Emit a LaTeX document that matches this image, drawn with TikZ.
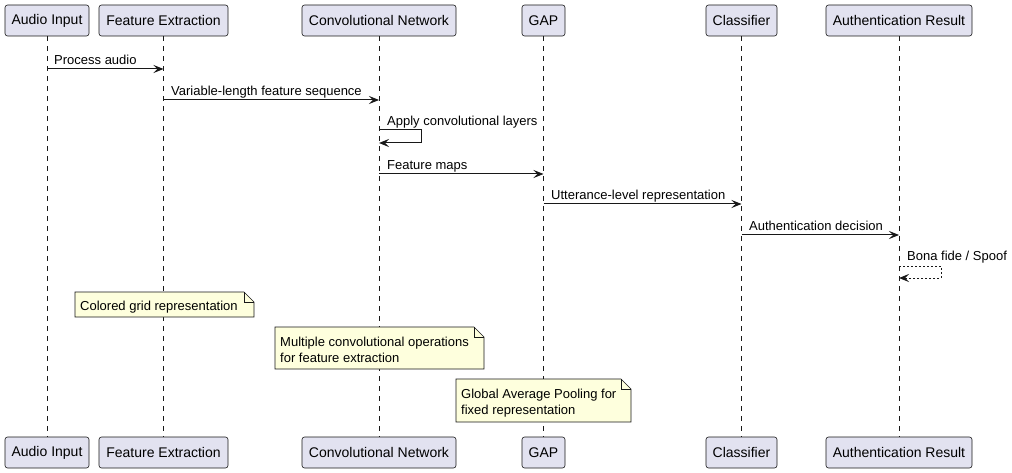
\documentclass[tikz,border=0pt]{standalone}
\usepackage{fontspec}
\setmainfont{Liberation Sans}
\usetikzlibrary{arrows.meta,backgrounds}
\definecolor{partfill}{HTML}{E2E2F0}
\definecolor{ink}{HTML}{181818}
\definecolor{notefill}{HTML}{FEFFDD}
\tikzset{
  part/.style={draw=ink, line width=0.6pt, fill=partfill, rounded corners=2.5pt, minimum height=31pt, inner sep=0pt, font=\fontsize{14}{16}\selectfont, text=black},
  lifeline/.style={draw=ink, line width=0.6pt, dash pattern=on 5pt off 5pt},
  msg/.style={draw=ink, line width=1pt, -{Stealth[length=10pt,width=8pt,inset=4pt]}},
  reply/.style={draw=ink, line width=1pt, dash pattern=on 2pt off 2pt, -{Stealth[length=10pt,width=8pt,inset=4pt,sep=0pt]}},
  lbl/.style={anchor=base west, inner sep=0pt, font=\fontsize{13}{15}\selectfont, text=black},
  notetext/.style={anchor=north west, inner sep=0pt, align=left, font=\fontsize{13}{16}\selectfont, text=black},
  notebox/.style={draw=ink, line width=0.6pt, fill=notefill},
}
\newcommand{\notefold}[4]{% x1,y1,x2,y2
  \draw[notebox] (#1,#2) -- (#3-10,#2) -- (#3,#2+10) -- (#3,#4) -- (#1,#4) -- cycle;
  \draw[notebox, fill=none] (#3-10,#2) -- (#3-10,#2+10) -- (#3,#2+10);
}
\begin{document}
\begin{tikzpicture}[x=1pt,y=-1pt]
\useasboundingbox (0,0) rectangle (1012,473);
% top participants
\node[part, minimum width=84pt]  (ai)  at (47,20.5)  {Audio Input};
\node[part, minimum width=129pt] (fe)  at (163.5,20.5) {Feature Extraction};
\node[part, minimum width=154pt] (cn)  at (379,20.5) {Convolutional Network};
\node[part, minimum width=43pt]  (gap) at (543.5,20.5) {GAP};
\node[part, minimum width=71pt]  (cl)  at (741.5,20.5) {Classifier};
\node[part, minimum width=146pt] (ar)  at (899,20.5) {Authentication Result};
% bottom participants
\node[part, minimum width=84pt]  (aib)  at (47,452.5)  {Audio Input};
\node[part, minimum width=129pt] (feb)  at (163.5,452.5) {Feature Extraction};
\node[part, minimum width=154pt] (cnb)  at (379,452.5) {Convolutional Network};
\node[part, minimum width=43pt]  (gapb) at (543.5,452.5) {GAP};
\node[part, minimum width=71pt]  (clb)  at (741.5,452.5) {Classifier};
\node[part, minimum width=146pt] (arb)  at (899,452.5) {Authentication Result};
% lifelines
\begin{scope}[on background layer]
\draw[lifeline] (ai.south) -- (aib.north);
\draw[lifeline] (fe.south) -- (feb.north);
\draw[lifeline] (cn.south) -- (cnb.north);
\draw[lifeline] (gap.south) -- (gapb.north);
\draw[lifeline] (cl.south) -- (clb.north);
\draw[lifeline] (ar.south) -- (arb.north);
\end{scope}
% messages
\draw[msg] (ai |- 0,69) -- (fe |- 0,69);
\node[lbl] (l1) at (54,65) {Process audio};
\draw[msg] (fe |- 0,100) -- (cn |- 0,100);
\node[lbl] (l2) at (171,96) {Variable-length feature sequence};
\coordinate (s1) at (421,130);
\coordinate (s2) at (421,143);
\draw[msg] (cn |- 0,130) -- (s1) -- (s2) -- (cn |- 0,143);
\node[lbl] (l3) at (387,126) {Apply convolutional layers};
\draw[msg] (cn |- 0,174) -- (gap |- 0,174);
\node[lbl] (l4) at (387,170) {Feature maps};
\draw[msg] (gap |- 0,204) -- (cl |- 0,204);
\node[lbl] (l5) at (551,200) {Utterance-level representation};
\draw[msg] (cl |- 0,235) -- (ar |- 0,235);
\node[lbl] (l6) at (749,231) {Authentication decision};
\coordinate (r1) at (941,266);
\coordinate (r2) at (941,278);
\draw[reply] (ar |- 0,266) -- (r1) -- (r2) -- (ar |- 0,278);
\node[lbl] (l7) at (907,261) {Bona fide / Spoof};
% notes
\notefold{75}{292}{254}{317}
\node[notetext] (n1) at (80,300.5) {Colored grid representation};
\notefold{275}{327}{484}{369}
\node[notetext] (n2) at (280,336.5) {Multiple convolutional operations\\for feature extraction};
\notefold{456}{379}{631}{422}
\node[notetext] (n3) at (461,389) {Global Average Pooling for\\fixed representation};
\end{tikzpicture}
\end{document}
